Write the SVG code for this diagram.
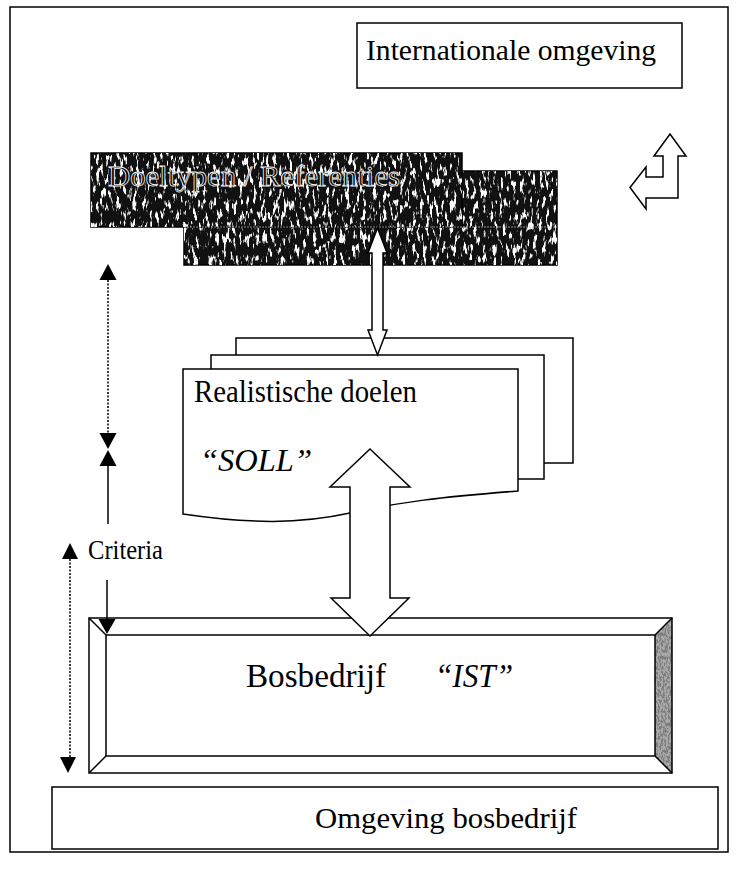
<svg xmlns="http://www.w3.org/2000/svg" width="736" height="871" viewBox="0 0 736 871">
<defs>
<style>
.ln{fill:none;stroke:#000;stroke-width:1.5}
.bx{fill:#fff;stroke:#000;stroke-width:1.5}
.t{font-family:"Liberation Serif","Times New Roman",serif;fill:#000}
.it{font-style:italic}
.dot{fill:none;stroke:#000;stroke-width:1.5;stroke-dasharray:2 1.5}
.head{fill:#000;stroke:none}
</style>
<filter id="speck" x="0" y="0" width="100%" height="100%">
<feTurbulence type="fractalNoise" baseFrequency="0.3 0.09" numOctaves="3" seed="7" result="n"/>
<feColorMatrix in="n" type="matrix" values="0 0 0 0 1  0 0 0 0 1  0 0 0 0 1  9 0 0 0 -5.0"/>
<feComposite in2="SourceGraphic" operator="in"/>
</filter>
<filter id="speck2" x="0" y="0" width="100%" height="100%">
<feTurbulence type="fractalNoise" baseFrequency="0.6 0.3" numOctaves="2" seed="3" result="n"/>
<feColorMatrix in="n" type="matrix" values="0 0 0 0 0.2  0 0 0 0 0.2  0 0 0 0 0.2  6 0 0 0 -2.6"/>
<feComposite in2="SourceGraphic" operator="in"/>
</filter>
</defs>

<rect x="10" y="7" width="718" height="845" class="ln" stroke-width="1.2"/>

<g id="internationale">
<rect x="357" y="23" width="325" height="65" class="bx"/>
<text x="366" y="60" class="t" font-size="29" textLength="290" lengthAdjust="spacingAndGlyphs">Internationale omgeving</text>
</g>

<g id="turn-arrow">
<polygon class="bx" points="670,134 686,156 678,156 678,198 646,198 646,209 630,187.5 646,167 646,177 663,177 663,156 654,156"/>
</g>

<g id="doeltypen">
<rect x="184" y="171" width="373" height="94" fill="#111" stroke="#000" stroke-width="1.5"/>
<rect x="184" y="171" width="373" height="94" fill="#fff" filter="url(#speck)"/>
<rect x="91" y="153" width="371" height="74" fill="#111" stroke="#000" stroke-width="1.5"/>
<rect x="91" y="153" width="371" height="74" fill="#fff" filter="url(#speck)"/>
<line x1="184" y1="227" x2="557" y2="227" stroke="#bbb" stroke-width="0.8" stroke-dasharray="2 1"/>
<text x="108" y="186" class="t" font-size="29" textLength="292" lengthAdjust="spacingAndGlyphs" fill="#222" stroke="#f0f0f0" stroke-width="0.8">Doeltypen  /  Referenties</text>
</g>

<g id="realistische-doelen">
<rect x="236" y="338" width="337" height="125" class="bx"/>
<rect x="211" y="355" width="333" height="124" class="bx"/>
<path class="bx" d="M183,369 H518 V491 C440,497 400,502 350,513 C300,524 250,524 183,514 Z"/>
<text x="194" y="402" class="t" font-size="31" textLength="223" lengthAdjust="spacingAndGlyphs">Realistische doelen</text>
<text x="200" y="471" class="t it" font-size="31" textLength="112" lengthAdjust="spacingAndGlyphs">“SOLL”</text>
</g>

<g id="bosbedrijf">
<rect x="89" y="618" width="583" height="155" fill="#fff"/>
<polygon points="672,618 672,773 655,756 655,635" fill="#aaa"/>
<polygon points="672,618 672,773 655,756 655,635" fill="#fff" filter="url(#speck2)"/>
<rect x="89" y="618" width="583" height="155" class="ln"/>
<rect x="106" y="635" width="549" height="121" class="ln"/>
<path class="ln" d="M89,618 L106,635 M672,618 L655,635 M89,773 L106,756 M672,773 L655,756"/>
<text x="246" y="687" class="t" font-size="34" textLength="140" lengthAdjust="spacingAndGlyphs">Bosbedrijf</text>
<text x="435" y="687" class="t it" font-size="34" textLength="78" lengthAdjust="spacingAndGlyphs">“IST”</text>
</g>

<g id="omgeving">
<rect x="52" y="787" width="666" height="62" class="bx"/>
<text x="315" y="828" class="t" font-size="30" textLength="262" lengthAdjust="spacingAndGlyphs">Omgeving bosbedrijf</text>
</g>

<g id="criteria">
<text x="88" y="559" class="t" font-size="27" textLength="75" lengthAdjust="spacingAndGlyphs">Criteria</text>
</g>

<g id="connectors">
<polygon class="bx" points="377.5,228 387,253 383,253 383,330 387,330 377.5,355 368,330 372,330 372,253 368,253"/>
<polygon class="bx" points="370,449 410,487 390,487 390,598 409,598 370,636 331,598 350,598 350,487 330,487"/>
<line x1="108" y1="280" x2="108" y2="433" class="dot"/>
<polygon class="head" points="108,264 116.5,280 99.5,280"/>
<polygon class="head" points="108,449 116.5,433 99.5,433"/>
<line x1="108" y1="466" x2="108" y2="524" class="ln"/>
<polygon class="head" points="108,450 116.5,466 99.5,466"/>
<line x1="107" y1="580" x2="107" y2="620" class="ln"/>
<polygon class="head" points="107,634 115.5,619 98.5,619"/>
<line x1="70" y1="559" x2="70" y2="758" class="dot"/>
<polygon class="head" points="70,543 78,559 62,559"/>
<polygon class="head" points="68,773 76,757 60,757"/>
</g>
</svg>
